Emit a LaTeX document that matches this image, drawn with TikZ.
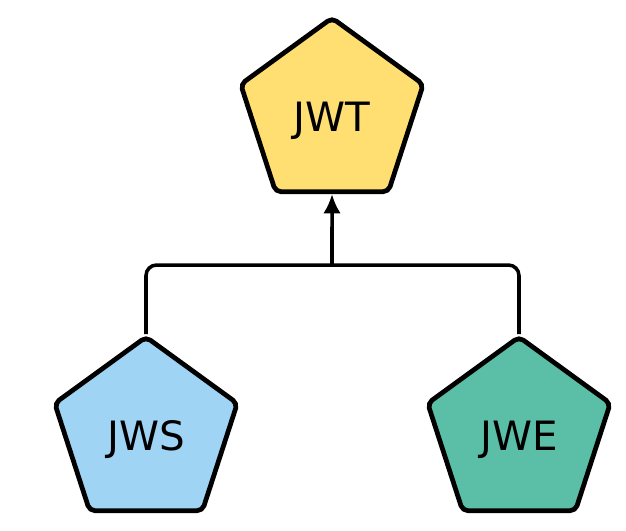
\documentclass[tikz,border=0pt]{standalone}
\usepackage{fontspec}
\setmainfont{DejaVu Sans}
\usetikzlibrary{arrows.meta,shapes.geometric}

\definecolor{jwtyellow}{HTML}{FFDF72}
\definecolor{jwsblue}{HTML}{9FD4F4}
\definecolor{jwegreen}{HTML}{5BBEA7}

\tikzset{
  token/.style={regular polygon, regular polygon sides=5, draw=black,
    line width=1.35pt, rounded corners=1.5pt, inner sep=0pt,
    minimum size=1.92cm, text depth=0pt,
    font=\fontsize{11.5}{13}\selectfont},
  link/.style={line width=1pt, draw=black}
}

\begin{document}
\begin{tikzpicture}[>={Latex[length=5.5pt,width=5pt]}]
  \useasboundingbox (0,0) rectangle (6.26,5.30);
  \node[token, fill=jwtyellow] (JWT) at (3.32,4.16) {\raisebox{-1.5pt}{JWT}};
  \node[token, fill=jwsblue] (JWS) at (1.46,0.97) {\raisebox{-1.5pt}{JWS}};
  \node[token, fill=jwegreen] (JWE) at (5.19,0.97) {\raisebox{-1.5pt}{JWE}};
  \coordinate (fork) at (3.32,2.65);
  \draw[link, rounded corners=3pt] (JWS.corner 1) |- (fork) -| (JWE.corner 1);
  \draw[link, ->] (fork) -- (JWT.south);
\end{tikzpicture}
\end{document}
